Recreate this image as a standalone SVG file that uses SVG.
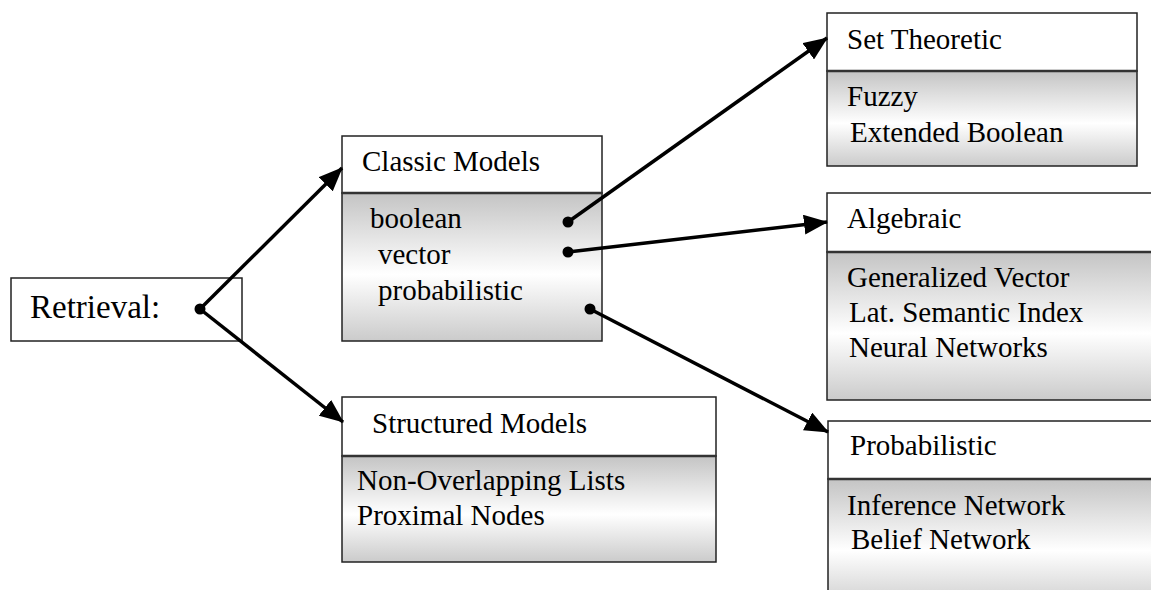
<svg xmlns="http://www.w3.org/2000/svg" width="1151" height="590" viewBox="0 0 1151 590">
<style>
  text { font-family: "Liberation Serif", "Times New Roman", serif; font-size: 29px; fill: #000; }
  .box { fill: #fff; stroke: #222; stroke-width: 1.5; }
  .body { fill: url(#grad); stroke: #222; stroke-width: 1.5; }
  .div { stroke: #333; stroke-width: 2.5; }
  .conn { stroke: #000; stroke-width: 3.5; fill: none; marker-end: url(#arrow); }
  .dot { fill: #000; }
</style>
<defs>
  <linearGradient id="grad" x1="0" y1="0" x2="0" y2="1">
    <stop offset="0" stop-color="#c4c4c4"/>
    <stop offset="0.55" stop-color="#ffffff"/>
    <stop offset="1" stop-color="#cbcbcb"/>
  </linearGradient>
  <marker id="arrow" markerUnits="userSpaceOnUse" markerWidth="24" markerHeight="20" refX="23" refY="10" orient="auto">
    <path d="M0,0 L24,10 L0,20 z" fill="#000"/>
  </marker>
</defs>
<rect width="1151" height="590" fill="#fff"/>

<g id="retrieval">
  <rect class="box" x="11" y="278" width="231" height="63"/>
  <text x="30" y="318" style="font-size:33px">Retrieval:</text>
</g>

<g id="classic">
  <rect class="box" x="342" y="136" width="260" height="57"/>
  <rect class="body" x="342" y="193" width="260" height="148"/>
  <line class="div" x1="342" y1="193" x2="602" y2="193"/>
  <text x="362" y="171">Classic Models</text>
  <text x="370" y="228">boolean</text>
  <text x="378" y="264">vector</text>
  <text x="378" y="300">probabilistic</text>
</g>

<g id="structured">
  <rect class="box" x="342" y="397" width="374" height="59"/>
  <rect class="body" x="342" y="456" width="374" height="106"/>
  <line class="div" x1="342" y1="456" x2="716" y2="456"/>
  <text x="372" y="433">Structured Models</text>
  <text x="357" y="490">Non-Overlapping Lists</text>
  <text x="357" y="525">Proximal Nodes</text>
</g>

<g id="settheoretic">
  <rect class="box" x="827" y="13" width="310" height="58"/>
  <rect class="body" x="827" y="71" width="310" height="95"/>
  <line class="div" x1="827" y1="71" x2="1137" y2="71"/>
  <text x="847" y="49">Set Theoretic</text>
  <text x="847" y="106">Fuzzy</text>
  <text x="850" y="142">Extended Boolean</text>
</g>

<g id="algebraic">
  <rect class="box" x="827" y="193" width="340" height="59"/>
  <rect class="body" x="827" y="252" width="340" height="148"/>
  <line class="div" x1="827" y1="252" x2="1167" y2="252"/>
  <text x="847" y="228">Algebraic</text>
  <text x="847" y="287">Generalized Vector</text>
  <text x="849" y="322">Lat. Semantic Index</text>
  <text x="849" y="357">Neural Networks</text>
</g>

<g id="probabilistic">
  <rect class="box" x="828" y="421" width="340" height="58"/>
  <rect class="body" x="828" y="479" width="340" height="130"/>
  <line class="div" x1="828" y1="479" x2="1168" y2="479"/>
  <text x="850" y="455">Probabilistic</text>
  <text x="847" y="515">Inference Network</text>
  <text x="851" y="549">Belief Network</text>
</g>

<g id="connectors">
  <line class="conn" x1="200" y1="309" x2="342" y2="168"/>
  <line class="conn" x1="200" y1="309" x2="343" y2="422"/>
  <line class="conn" x1="568" y1="222" x2="827" y2="38"/>
  <line class="conn" x1="568" y1="252" x2="827" y2="222"/>
  <line class="conn" x1="590" y1="309" x2="828" y2="432"/>
  <circle class="dot" cx="200" cy="309" r="5.5"/>
  <circle class="dot" cx="568" cy="222" r="5.5"/>
  <circle class="dot" cx="568" cy="252" r="5.5"/>
  <circle class="dot" cx="590" cy="309" r="5.5"/>
</g>
</svg>
